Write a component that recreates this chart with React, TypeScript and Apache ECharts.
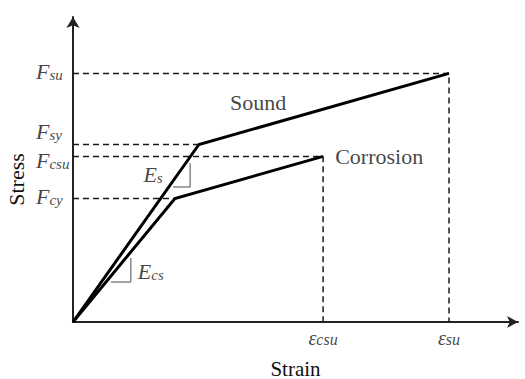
import React, { useEffect, useRef } from "react";
import * as echarts from "echarts";

// Stress–strain curves (arbitrary units)
const soundStrain = [0, 28.3, 84.5];
const soundStress = [0, 58.2, 81.5];
const corrosionStrain = [0, 22.9, 56.2];
const corrosionStress = [0, 40.5, 54.3];
const seriesNames = ["Sound", "Corrosion"];
const stressTickLabels = ["su", "sy", "csu", "cy"]; // F subscripts
const strainTickLabels = ["csu", "su"]; // ε subscripts
const modulusLabels = ["s", "cs"]; // E subscripts

const FONT = "Liberation Serif";
const TXT = "#111";

export default function App() {
  const ref = useRef<HTMLDivElement>(null);
  useEffect(() => {
    if (!ref.current) return;
    const chart = echarts.init(ref.current, null, { renderer: "svg" });

    const sound = soundStrain.map((x, i) => [x, soundStress[i]]);
    const corr = corrosionStrain.map((x, i) => [x, corrosionStress[i]]);
    const [, sY, sU] = sound;
    const [, cY, cU] = corr;

    const slopeTri = (yieldPt: number[], t1: number, t2: number, dx: number) => {
      const p1 = [yieldPt[0] * t1 + dx, yieldPt[1] * t1];
      const p2 = [yieldPt[0] * t2 + dx, yieldPt[1] * t2];
      return [p1, [p2[0], p1[1]], p2];
    };

    const rich = {
      F: { fontFamily: FONT, fontStyle: "italic", fontSize: 22, color: TXT, lineHeight: 22, verticalAlign: "bottom" },
      s: { fontFamily: FONT, fontStyle: "italic", fontSize: 15, color: TXT, lineHeight: 12, verticalAlign: "bottom" },
      e: { fontFamily: FONT, fontStyle: "italic", fontSize: 20, color: TXT, lineHeight: 20, verticalAlign: "bottom" },
      es: { fontFamily: FONT, fontStyle: "italic", fontSize: 16, color: TXT, lineHeight: 14, verticalAlign: "bottom" },
    };

    const dashed = (data: number[][]) => ({
      type: "line",
      data,
      symbol: "none",
      silent: true,
      lineStyle: { color: "#1a1a1a", width: 1.5, type: [6, 4] },
      z: 2,
    });

    const fLabel = (y: number, sub: string, dy: number) => ({
      value: [0, y],
      label: {
        show: true,
        formatter: `{F|F}{s|${sub}}`,
        position: [-37, dy],
        align: "left",
        verticalAlign: "middle",
        rich,
      },
    });

    const option: any = {
      animation: false,
      grid: { left: 73, right: 7, top: 17, bottom: 57, containLabel: false, outerBoundsMode: "none" },
      xAxis: {
        type: "value",
        min: 0,
        max: 100,
        name: "Strain",
        nameLocation: "middle",
        nameGap: 38,
        nameTextStyle: { fontFamily: FONT, fontSize: 21, lineHeight: 17, color: TXT },
        splitLine: { show: false },
        axisTick: { show: false },
        axisLabel: { show: false },
        axisLine: {
          show: true,
          symbol: ["none", "arrow"],
          symbolSize: [9, 11],
          lineStyle: { color: "#222", width: 2 },
        },
      },
      yAxis: {
        type: "value",
        min: 0,
        max: 100,
        name: "Stress",
        nameLocation: "middle",
        nameGap: 46,
        nameTextStyle: { fontFamily: FONT, fontSize: 22, color: TXT, padding: [0, 20, 0, 0] },
        splitLine: { show: false },
        axisTick: { show: false },
        axisLabel: { show: false },
        axisLine: {
          show: true,
          symbol: ["none", "arrow"],
          symbolSize: [10, 11],
          lineStyle: { color: "#222", width: 2 },
        },
      },
      series: [
        dashed([[0, sU[1]], [sU[0], sU[1]], [sU[0], 0]]),
        dashed([[0, sY[1]], [sY[0], sY[1]]]),
        dashed([[0, cU[1]], [cU[0], cU[1]], [cU[0], 0]]),
        dashed([[0, cY[1]], [cY[0], cY[1]]]),
        {
          type: "line",
          data: slopeTri(sY, 0.76, 0.895, 1.0),
          symbol: "none",
          silent: true,
          lineStyle: { color: "#888", width: 1.5 },
          z: 3,
        },
        {
          type: "line",
          data: slopeTri(cY, 0.323, 0.519, 1.1),
          symbol: "none",
          silent: true,
          lineStyle: { color: "#888", width: 1.5 },
          z: 3,
        },
        {
          name: seriesNames[0],
          type: "line",
          data: sound,
          symbol: "none",
          lineStyle: { color: "#000", width: 3, join: "miter" },
          z: 5,
        },
        {
          name: seriesNames[1],
          type: "line",
          data: corr,
          symbol: "none",
          lineStyle: { color: "#000", width: 3, join: "miter" },
          z: 5,
        },
        {
          type: "scatter",
          symbolSize: 0.1,
          silent: true,
          itemStyle: { color: "transparent" },
          z: 6,
          data: [
            fLabel(sU[1], stressTickLabels[0], -2),
            fLabel(sY[1], stressTickLabels[1], -13),
            fLabel(cU[1], stressTickLabels[2], 4),
            fLabel(cY[1], stressTickLabels[3], -2),
            ...[cU[0], sU[0]].map((x, i) => ({
              value: [x, 0],
              label: {
                show: true,
                formatter: `{e|ε}{es|${strainTickLabels[i]}}`,
                position: [0, 16],
                align: "center",
                verticalAlign: "middle",
                rich,
              },
            })),
            ...[
              [18.0, 48.2],
              [17.5, 16.7],
            ].map((p, i) => ({
              value: p,
              label: {
                show: true,
                formatter: `{F|E}{s|${modulusLabels[i]}}`,
                position: [0, 0],
                align: "center",
                verticalAlign: "middle",
                rich,
              },
            })),
            {
              value: [41.6, 71.8],
              label: {
                show: true,
                formatter: seriesNames[0],
                position: [0, 0],
                align: "center",
                verticalAlign: "middle",
                fontFamily: FONT,
                fontSize: 22,
                color: TXT,
              },
            },
            {
              value: cU,
              label: {
                show: true,
                formatter: seriesNames[1],
                position: "right",
                distance: 12,
                fontFamily: FONT,
                fontSize: 22,
                color: TXT,
              },
            },
          ],
        },
      ],
    };

    chart.setOption(option);
    return () => chart.dispose();
  }, []);

  return (
    <div
      ref={ref}
      style={{ position: "fixed", left: 0, top: 0, width: 525, height: 379, background: "#fff" }}
    />
  );
}
